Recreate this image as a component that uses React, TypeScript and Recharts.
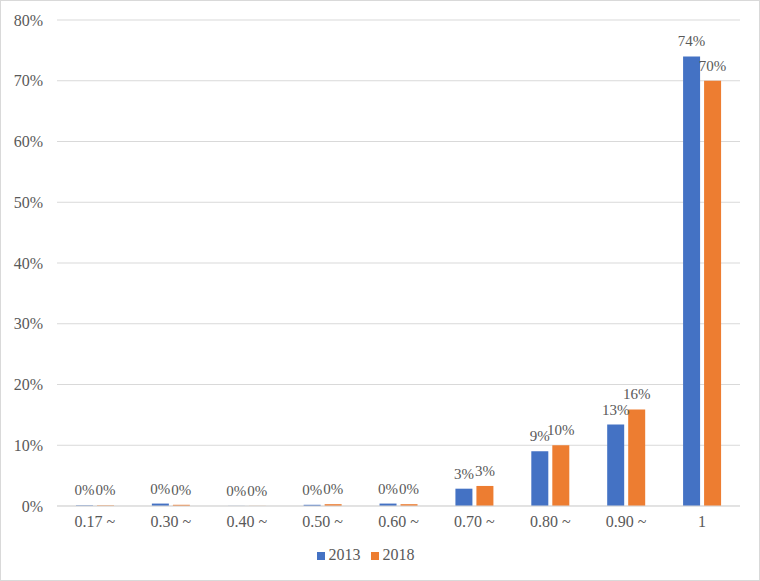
import { BarChart, Bar, XAxis, YAxis, CartesianGrid, Legend, LabelList } from "recharts";

const categories = ["0.17 ~", "0.30 ~", "0.40 ~", "0.50 ~", "0.60 ~", "0.70 ~", "0.80 ~", "0.90 ~", "1"];
const values2013 = [0.1, 0.4, 0.02, 0.2, 0.4, 2.85, 9.0, 13.4, 74.0];
const values2018 = [0.1, 0.2, 0.02, 0.3, 0.3, 3.3, 10.0, 15.9, 70.0];
const yTicks = [0, 10, 20, 30, 40, 50, 60, 70, 80];

const data = categories.map((name, i) => ({
  name,
  y2013: values2013[i],
  y2018: values2018[i],
}));

const font = "Liberation Serif";
const textColor = "#595959";

const pct = (v: any) => `${Math.round(Number(v))}%`;

export default function App() {
  return (
    <div
      style={{
        position: "absolute",
        left: 0,
        top: 0,
        width: 760,
        height: 581,
        boxSizing: "border-box",
        border: "1px solid #d9d9d9",
        background: "#fff",
        fontFamily: font,
      }}
    >
      <BarChart
        width={758}
        height={579}
        data={data}
        margin={{ top: 19, right: 19, left: 0, bottom: 16 }}
        barGap={4}
        barCategoryGap="25%"
        style={{ fontFamily: font }}
      >
        <CartesianGrid vertical={false} stroke="#d9d9d9" />
        <XAxis
          dataKey="name"
          axisLine={{ stroke: "#d9d9d9" }}
          tickLine={false}
          tickSize={0}
          tickMargin={10}
          height={40}
          tick={{ fill: textColor, fontSize: 16, fontFamily: font }}
        />
        <YAxis
          width={56}
          domain={[0, 80]}
          ticks={yTicks}
          tickFormatter={(v) => `${v}%`}
          axisLine={false}
          tickLine={false}
          tickSize={0}
          tickMargin={14}
          tick={{ fill: textColor, fontSize: 16, fontFamily: font }}
        />
        <Legend
          verticalAlign="bottom"
          iconType="square"
          iconSize={8}
          wrapperStyle={{ fontSize: 16, fontFamily: font }}
          formatter={(value) => <span style={{ color: textColor, fontFamily: font }}>{value}</span>}
        />
        <Bar dataKey="y2013" name="2013" fill="#4472C4" isAnimationActive={false}>
          <LabelList
            dataKey="y2013"
            position="top"
            offset={10}
            formatter={pct}
            style={{ fill: textColor, fontSize: 15, fontFamily: font }}
          />
        </Bar>
        <Bar dataKey="y2018" name="2018" fill="#ED7D31" isAnimationActive={false}>
          <LabelList
            dataKey="y2018"
            position="top"
            offset={10}
            formatter={pct}
            style={{ fill: textColor, fontSize: 15, fontFamily: font }}
          />
        </Bar>
      </BarChart>
    </div>
  );
}
